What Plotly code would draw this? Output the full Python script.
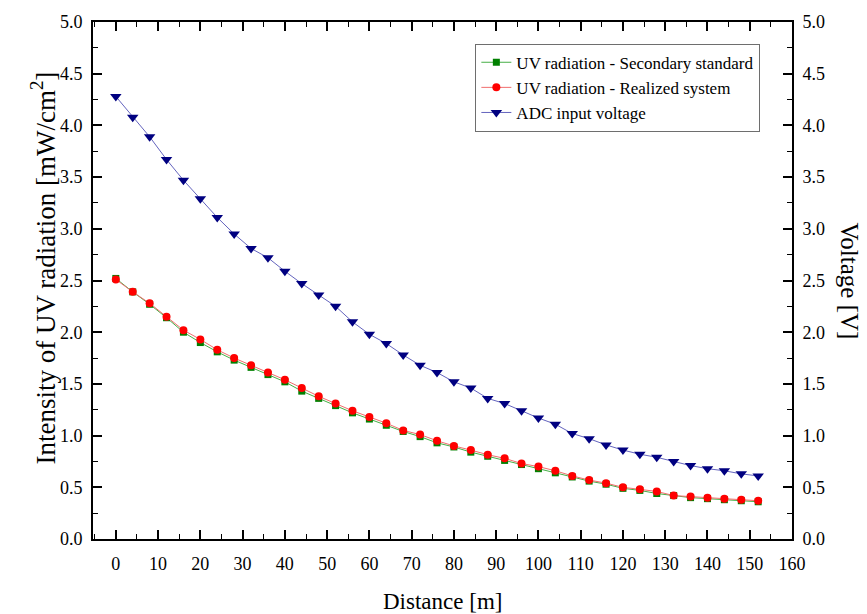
import plotly.graph_objects as go

distance = [0, 4, 8, 12, 16, 20, 24, 28, 32, 36, 40, 44, 48, 52, 56, 60, 64, 68, 72, 76,
            80, 84, 88, 92, 96, 100, 104, 108, 112, 116, 120, 124, 128, 132, 136, 140, 144, 148, 152]

uv_secondary = [2.52, 2.39, 2.27, 2.14, 2.00, 1.90, 1.81, 1.73, 1.66, 1.59, 1.52, 1.43, 1.36, 1.29,
                1.22, 1.16, 1.10, 1.04, 0.99, 0.93, 0.89, 0.84, 0.80, 0.76, 0.72, 0.68, 0.64, 0.60,
                0.56, 0.53, 0.49, 0.47, 0.44, 0.42, 0.40, 0.39, 0.38, 0.37, 0.36]

uv_realized = [2.51, 2.39, 2.28, 2.15, 2.02, 1.93, 1.83, 1.75, 1.68, 1.61, 1.54, 1.46, 1.38, 1.31,
               1.24, 1.18, 1.12, 1.05, 1.01, 0.95, 0.90, 0.86, 0.815, 0.78, 0.73, 0.70, 0.66, 0.61,
               0.57, 0.54, 0.50, 0.48, 0.46, 0.42, 0.41, 0.40, 0.39, 0.38, 0.37]

adc_voltage = [4.28, 4.08, 3.89, 3.67, 3.47, 3.29, 3.11, 2.95, 2.81, 2.72, 2.59, 2.47, 2.36, 2.25,
               2.10, 1.98, 1.89, 1.78, 1.68, 1.61, 1.52, 1.46, 1.36, 1.31, 1.24, 1.17, 1.11, 1.02,
               0.97, 0.91, 0.86, 0.82, 0.79, 0.75, 0.71, 0.68, 0.66, 0.63, 0.61]

x_ticks = [0, 10, 20, 30, 40, 50, 60, 70, 80, 90, 100, 110, 120, 130, 140, 150, 160]
y_ticks = [0.0, 0.5, 1.0, 1.5, 2.0, 2.5, 3.0, 3.5, 4.0, 4.5, 5.0]
y_tick_text = ["0.0", "0.5", "1.0", "1.5", "2.0", "2.5", "3.0", "3.5", "4.0", "4.5", "5.0"]

FONT = "Liberation Serif"

fig = go.Figure()
fig.add_trace(go.Scatter(
    x=distance, y=uv_secondary, name="UV radiation - Secondary standard",
    mode="lines+markers",
    line=dict(color="rgb(70,175,70)", width=1),
    marker=dict(symbol="square", size=7, color="rgb(0,128,0)"),
))
fig.add_trace(go.Scatter(
    x=distance, y=uv_realized, name="UV radiation - Realized system",
    mode="lines+markers",
    line=dict(color="rgb(240,110,110)", width=1),
    marker=dict(symbol="circle", size=8, color="rgb(255,0,0)"),
))
fig.add_trace(go.Scatter(
    x=distance, y=adc_voltage, name="ADC input voltage", yaxis="y2",
    mode="lines+markers",
    line=dict(color="rgb(100,100,190)", width=1),
    marker=dict(symbol="triangle-down", size=10, color="rgb(0,0,128)"),
))

axis_common = dict(
    showline=True, linecolor="black", linewidth=2,
    ticks="inside", ticklen=9, tickwidth=1.6, tickcolor="black",
    showgrid=False, zeroline=False,
    tickfont=dict(family=FONT, size=18, color="black"),
)
minor_y = dict(dtick=0.25, tick0=0, ticks="inside", ticklen=5, tickwidth=1.4, tickcolor="black")

fig.update_layout(
    width=867, height=614,
    margin=dict(l=93, r=75, t=16, b=75),
    paper_bgcolor="white", plot_bgcolor="white",
    font=dict(family=FONT, color="black"),
    xaxis=dict(
        range=[-5.4, 160], tickvals=x_ticks, mirror="ticks",
        minor=dict(dtick=5, tick0=0, ticks="inside", ticklen=5, tickwidth=1.4, tickcolor="black"),
        ticklabelstandoff=7,
        **axis_common,
    ),
    yaxis=dict(
        range=[0, 5], tickvals=y_ticks, ticktext=y_tick_text,
        minor=minor_y, ticklabelstandoff=5,
        **axis_common,
    ),
    yaxis2=dict(
        range=[0, 5], tickvals=y_ticks, ticktext=y_tick_text, overlaying="y", side="right",
        minor=minor_y, ticklabelstandoff=5,
        **axis_common,
    ),
    legend=dict(
        x=0.547, y=0.958, xanchor="left", yanchor="top",
        bordercolor="rgb(110,110,110)", borderwidth=1, bgcolor="white",
        font=dict(family=FONT, size=17, color="black"),
        tracegroupgap=0,
    ),
    showlegend=True,
)

fig.add_annotation(
    text="Distance [m]", xref="paper", yref="paper",
    x=0.5, y=0, xanchor="center", yanchor="middle", yshift=-62,
    showarrow=False, font=dict(family=FONT, size=23, color="black"),
)
fig.add_annotation(
    text="Intensity of UV radiation [mW/cm<sup>2</sup>]", textangle=-90, xref="paper", yref="paper",
    x=0, y=0.5, xanchor="center", yanchor="middle", xshift=-50, yshift=12,
    showarrow=False, font=dict(family=FONT, size=27, color="black"),
)
fig.add_annotation(
    text="Voltage [V]", textangle=90, xref="paper", yref="paper",
    x=1.0, y=0.5, xanchor="center", yanchor="middle", xshift=57,
    showarrow=False, font=dict(family=FONT, size=25, color="black"),
)

fig.write_html("out.html")
